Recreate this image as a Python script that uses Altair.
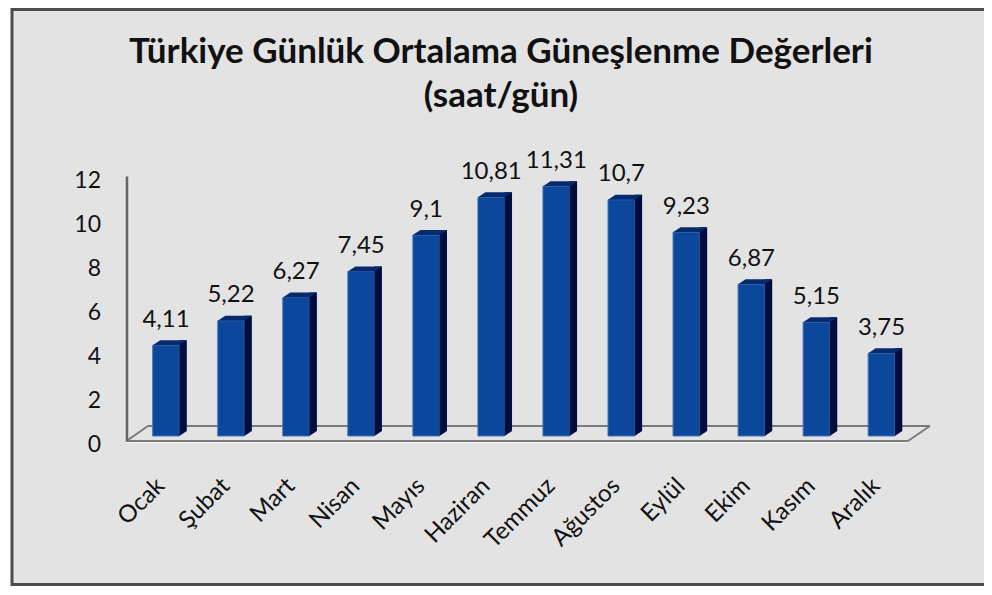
import altair as alt
import pandas as pd

months = ["Ocak", "Şubat", "Mart", "Nisan", "Mayıs", "Haziran",
          "Temmuz", "Ağustos", "Eylül", "Ekim", "Kasım", "Aralık"]
values = [4.11, 5.22, 6.27, 7.45, 9.1, 10.81, 11.31, 10.7, 9.23, 6.87, 5.15, 3.75]
labels = ["4,11", "5,22", "6,27", "7,45", "9,1", "10,81", "11,31", "10,7",
          "9,23", "6,87", "5,15", "3,75"]
y_ticks = [0, 2, 4, 6, 8, 10, 12]
title_lines = ["Türkiye Günlük Ortalama  Güneşlenme Değerleri", "(saat/gün)"]

df = pd.DataFrame({"ay": months, "deger": values, "etiket": labels})

W = 780.6
H = 265
FONT = "Lato"
FRONT = "#0b479b"
SIDE = "#000d3f"
TOP = "#072a6e"
GRID_GRAY = "#7a7a7a"

x_enc = alt.X("ay:N", sort=months,
              scale=alt.Scale(paddingInner=0, paddingOuter=0),
              axis=alt.Axis(title=None, domain=False, ticks=False, zindex=2,
                            labelAngle=315, labelAlign="right",
                            labelBaseline="middle", labelPadding=41,
                            labelOffset=-5,
                            labelFontSize=24, labelFont=FONT,
                            labelColor="#111111"))
y_scale = alt.Scale(domain=[0, 12], nice=False, zero=True)
y_enc = alt.Y("deger:Q", scale=y_scale, stack=None,
              axis=alt.Axis(title=None, values=y_ticks, grid=False, ticks=False,
                            zindex=2,
                            domainColor="#666666", domainWidth=2.5, offset=7,
                            labelFontSize=23, labelFont=FONT, labelColor="#111111",
                            labelPadding=26, labelBaseline="middle", labelOffset=4))

base = alt.Chart(df)

frame = alt.Chart(df.head(1)).mark_rect(fill="#e3e3e3", stroke="#4d4d4d",
                                        strokeWidth=3).encode(
    x=alt.value(-121.5), x2=alt.value(900), y=alt.value(-166.5), y2=alt.value(408.5)
)

def rule(x1, y1, x2, y2, color=GRID_GRAY, w=2):
    return alt.Chart(df.head(1)).mark_rule(color=color, strokeWidth=w).encode(
        x=alt.value(x1), y=alt.value(y1), x2=alt.value(x2), y2=alt.value(y2))

floor = [
    rule(-7, 266.5, 774.5, 266.5, color="#f4f4f4", w=1.5),
    rule(-7, 265, 774.5, 265),
    rule(14.5, 250, 796.5, 250),
    rule(-7, 265, 14.5, 250),
    rule(774.5, 265, 796.5, 250),
]

def title_text(line, ypos):
    return alt.Chart(df.head(1)).mark_text(
        fontSize=35, font=FONT, fontWeight="bold", color="#111111",
        align="center", baseline="alphabetic").encode(
        x=alt.value(367.5), y=alt.value(ypos), text=alt.value(line))

titles = [title_text(title_lines[0], -113), title_text(title_lines[1], -69)]

front = base.mark_bar(size=26.6, yOffset=-5, y2Offset=-5, color=FRONT,
                      stroke="#3f72bd", strokeWidth=1).encode(
    x=x_enc, y=y_enc, y2=alt.datum(0))

side = base.mark_bar(size=7.5, xOffset=17.05, yOffset=-10, y2Offset=-10,
                     color=SIDE).encode(x=x_enc, y=y_enc, y2=alt.datum(0))

side_bottom = base.mark_point(shape="M13.3,-10L13.3,-5L20.8,-10Z", size=4,
                              filled=True, opacity=1, color=SIDE,
                              strokeWidth=0).encode(x=x_enc, y=alt.datum(0))

top = base.mark_point(shape="M-13.3,-5L13.3,-5L20.8,-10L-5.8,-10Z", size=4,
                      filled=True, opacity=1, color=TOP,
                      strokeWidth=0).encode(x=x_enc, y=y_enc)

text = base.mark_text(dy=-23.3, baseline="alphabetic", fontSize=24, font=FONT,
                      color="#111111").encode(x=x_enc, y=y_enc, text="etiket:N")

chart = alt.layer(frame, *floor, *titles, front, side, side_bottom, top, text).properties(
    width=W, height=H,
    padding={"left": 125.5, "top": 168, "right": 70, "bottom": 146},
    autosize=alt.AutoSizeParams(type="none"),
    background="white",
).configure_view(stroke=None)

chart.save("out.html", embed_options={"renderer": "svg", "actions": False})
